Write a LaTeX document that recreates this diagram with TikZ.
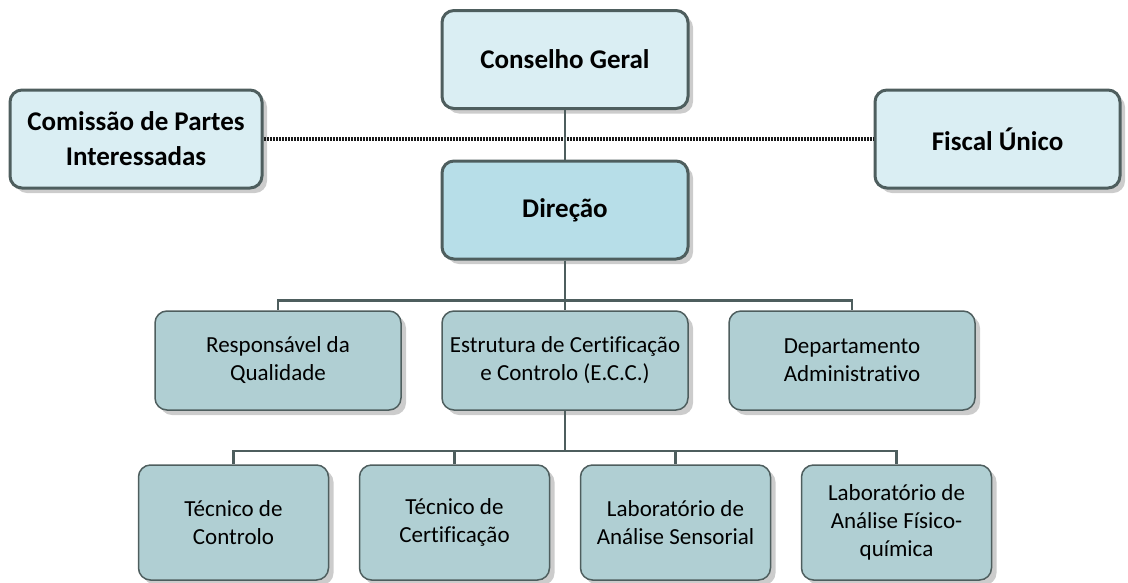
\documentclass[tikz,border=0pt]{standalone}
\usepackage{fontspec}
\setmainfont{Carlito}[Ligatures=NoCommon]
\usetikzlibrary{shadows}
\definecolor{headfill}{HTML}{DAEEF3}
\definecolor{dirfill}{HTML}{B7DEE8}
\definecolor{unitfill}{HTML}{B0CFD3}
\definecolor{boxline}{HTML}{4E5E5E}
\begin{document}
\begin{tikzpicture}[font=\fontsize{23}{28}\selectfont,
        box/.style={draw=boxline, rounded corners=12pt, align=center, inner sep=2pt,
            drop shadow={shadow xshift=5pt, shadow yshift=-5pt, fill=black!40}},
        headbox/.style={box, line width=3pt, fill=headfill, minimum width=246pt,
            minimum height=98pt, font=\fontsize{27}{35}\selectfont\bfseries},
        dirbox/.style={headbox, fill=dirfill},
        unitbox/.style={box, line width=1.5pt, fill=unitfill, minimum width=246pt, minimum height=99pt},
        staffbox/.style={unitbox, minimum width=190pt, minimum height=115pt},
        sidelink/.style={draw=black!90, line width=4pt, dash pattern=on 2pt off 1pt},
        edge from parent/.style={draw=boxline, line width=2.5pt},
        edge from parent path={(\tikzparentnode.south) -- ++(0,-40pt) -| (\tikzchildnode.north)},
        level 1/.style={level distance=150.5pt},
        level 2/.style={level distance=150.5pt, sibling distance=287pt},
        level 3/.style={level distance=162pt, sibling distance=221pt, xshift=6pt}]
        \useasboundingbox (0,0) rectangle (1128pt,-582pt);
        \node[headbox, minimum width=252pt] (cpi) at (136pt,-139pt) {Comissão de Partes\\Interessadas};
        \node[headbox, minimum width=245pt] (fu) at (997.5pt,-139pt) {Fiscal Único};
        \draw[sidelink] (cpi.east) -- (fu.west);
        \node[headbox] (cg) at (565pt,-59.5pt) {Conselho Geral}
        child { node[dirbox] (dir) {Direção}
            child { node[unitbox] (rq) {Responsável da\\Qualidade}}
            child { node[unitbox] (ecc) {Estrutura de Certificação\\e Controlo (E.C.C.)}
                child { node[staffbox] (tc) {Técnico de\\Controlo}}
                child { node[staffbox] (tcert) {Técnico de\\Certificação}}
                child { node[staffbox] (las) {Laboratório de\\Análise Sensorial}}
                child { node[staffbox] (lafq) {Laboratório de\\Análise Físico-\\química}}
            }
            child { node[unitbox] (da) {Departamento\\Administrativo}}
        };
    \end{tikzpicture}
\end{document}
